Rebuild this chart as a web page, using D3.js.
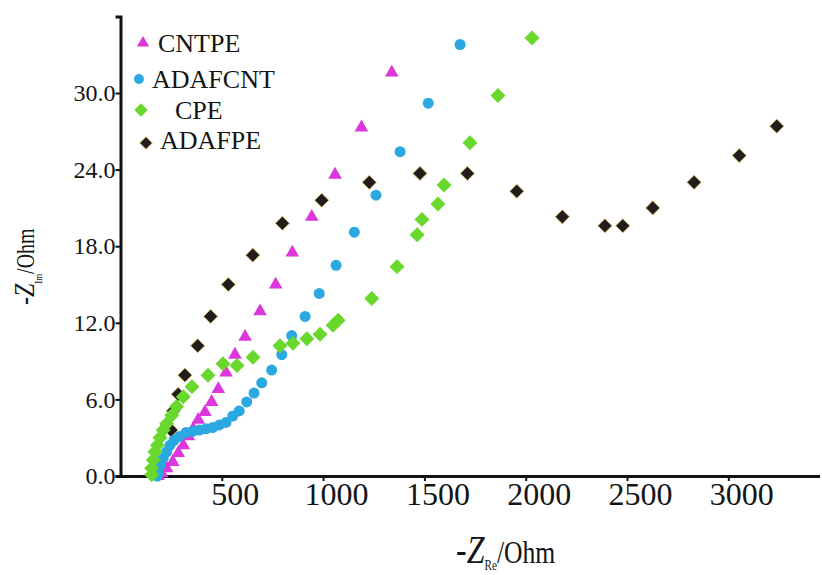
<!DOCTYPE html>
<html>
<head>
<meta charset="utf-8">
<script src="https://cdn.jsdelivr.net/npm/d3@7/dist/d3.min.js"></script>
<style>
  body { margin: 0; background: #fff; }
  svg { display: block; }
  text { font-family: "Liberation Serif", "Times New Roman", serif; fill: #141414; }
</style>
</head>
<body>
<svg width="822" height="575"></svg>
<script>
// Nyquist data: [-Z_Re (Ohm), -Z_Im (Ohm)]
const seriesNames = ["CNTPE", "ADAFCNT", "CPE", "ADAFPE"];

const cntpe = [
  [185, 0.0], [203, 0.2], [228, 0.6], [258, 1.1], [285, 1.8], [310, 2.4],
  [335, 3.1], [359, 3.7], [384, 4.4], [417, 5.0], [450, 5.8], [483, 6.8],
  [521, 8.1], [565, 9.5], [615, 10.9], [689, 12.9], [766, 15.0], [848, 17.5],
  [944, 20.3], [1059, 23.6], [1189, 27.3], [1339, 31.6]
];

const adafcnt = [
  [182, 0.0], [187, 0.3], [198, 0.9], [211, 1.4], [228, 1.9], [244, 2.4],
  [264, 2.8], [290, 3.1], [323, 3.4], [356, 3.5], [389, 3.6], [422, 3.7],
  [455, 3.8], [488, 4.0], [521, 4.2], [554, 4.7], [586, 5.1], [623, 5.8],
  [659, 6.5], [697, 7.3], [746, 8.3], [796, 9.5], [845, 11.0], [911, 12.5],
  [981, 14.3], [1064, 16.5], [1154, 19.1], [1261, 22.0], [1380, 25.4],
  [1519, 29.2], [1676, 33.8]
];

const cpe = [
  [154, 0.1], [154, 0.6], [162, 1.25], [170, 1.9], [182, 2.4], [195, 3.0],
  [211, 3.6], [228, 4.1], [253, 4.75], [277, 5.45], [310, 6.2], [353, 7.0],
  [432, 7.9], [506, 8.8], [575, 8.65], [654, 9.3], [787, 10.2], [851, 10.4],
  [920, 10.75], [985, 11.1], [1049, 11.8], [1074, 12.2], [1240, 13.9],
  [1365, 16.4], [1464, 18.9], [1488, 20.1], [1567, 21.3], [1597, 22.8],
  [1725, 26.1], [1863, 29.8], [2031, 34.3]
];

const adafpe = [
  [249, 3.6], [261, 5.1], [285, 6.4], [318, 7.9], [381, 10.2], [445, 12.5],
  [532, 15.0], [653, 17.3], [799, 19.8], [993, 21.6], [1228, 23.0],
  [1478, 23.7], [1712, 23.7], [1956, 22.3], [2181, 20.3], [2391, 19.6],
  [2479, 19.6], [2627, 21.0], [2831, 23.0], [3054, 25.1], [3239, 27.4]
];

const xTicks = [500, 1000, 1500, 2000, 2500, 3000];
const yTicks = [0, 6, 12, 18, 24, 30];

const svg = d3.select("svg");

// scales (x axis starts at the y axis, no 0 label)
const x = d3.scaleLinear().domain([0, 3450]).range([120.5, 819.5]);
const y = d3.scaleLinear().domain([0, 36]).range([476, 16.4]);

// marker styles per series
const styles = {
  CNTPE:   { data: cntpe,   symbol: d3.symbolTriangle, size: 80,  rotate: 0,  fill: "#dc36dc", stroke: "none" },
  ADAFCNT: { data: adafcnt, symbol: d3.symbolCircle,   size: 95,  rotate: 0,  fill: "#2ba7e2", stroke: "none" },
  CPE:     { data: cpe,     symbol: d3.symbolSquare,   size: 112, rotate: 45, fill: "#68d82c", stroke: "none" },
  ADAFPE:  { data: adafpe,  symbol: d3.symbolSquare,   size: 100, rotate: 45, fill: "#221c1c", stroke: "#d9c46a" }
};

// x axis
const xAxis = svg.append("g")
    .attr("transform", "translate(0," + y(0) + ")")
    .call(d3.axisBottom(x).tickValues(xTicks).tickSize(5).tickSizeOuter(0).tickFormat(d3.format("d")));
xAxis.select(".domain").attr("stroke", "#111").attr("stroke-width", 3);
xAxis.selectAll(".tick line").attr("stroke", "#111").attr("stroke-width", 2);
xAxis.selectAll(".tick text")
    .attr("fill", "#141414")
    .attr("y", 29)
    .attr("dx", 13)
    .attr("dy", 0)
    .style("font-size", "32px")
    .style("font-family", "'Liberation Serif', serif");

// y axis
const yAxis = svg.append("g")
    .attr("transform", "translate(" + x(0) + ",0)")
    .call(d3.axisLeft(y).tickValues(yTicks).tickSize(5).tickSizeOuter(5).tickFormat(d3.format(".1f")));
yAxis.select(".domain").attr("stroke", "#111").attr("stroke-width", 3);
yAxis.selectAll(".tick line").attr("stroke", "#111").attr("stroke-width", 2);
yAxis.selectAll(".tick text")
    .attr("fill", "#141414")
    .attr("x", -5)
    .attr("dy", "0.32em")
    .style("font-size", "24px")
    .style("font-family", "'Liberation Serif', serif");

// points, black first so the coloured ones sit on top near the origin
const drawOrder = ["ADAFPE", "CNTPE", "ADAFCNT", "CPE"];
drawOrder.forEach(function (name) {
    const s = styles[name];
    const path = d3.symbol().type(s.symbol).size(s.size)();
    svg.append("g")
        .attr("class", "series")
        .selectAll("path")
        .data(s.data)
        .enter().append("path")
        .attr("d", path)
        .attr("fill", s.fill)
        .attr("stroke", s.stroke)
        .attr("stroke-width", 0.8)
        .attr("transform", function (d) {
            return "translate(" + x(d[0]) + "," + y(d[1]) + ") rotate(" + s.rotate + ")";
        });
});

// legend (hand placed like the original)
const legendPos = [
  { mx: 143, my: 43, tx: 158, ty: 51.5 },
  { mx: 139, my: 79, tx: 152, ty: 87.5 },
  { mx: 141, my: 110, tx: 175, ty: 118.5 },
  { mx: 146, my: 143, tx: 160, ty: 148.5 }
];
const legend = svg.append("g").attr("class", "legend");
seriesNames.forEach(function (name, i) {
    const s = styles[name], p = legendPos[i];
    legend.append("path")
        .attr("d", d3.symbol().type(s.symbol).size(s.size * 0.8)())
        .attr("fill", s.fill)
        .attr("stroke", s.stroke)
        .attr("stroke-width", 0.8)
        .attr("transform", "translate(" + p.mx + "," + p.my + ") rotate(" + s.rotate + ")");
    legend.append("text")
        .attr("x", p.tx)
        .attr("y", p.ty)
        .style("font-size", "26px")
        .text(name);
});

// axis titles
const xTitle = svg.append("text")
    .attr("transform", "translate(456,563) scale(0.8,1)");
xTitle.append("tspan").style("font-size", "40px").text("-");
xTitle.append("tspan").style("font-size", "40px").style("font-style", "italic").text("Z");
xTitle.append("tspan").style("font-size", "14px").attr("dy", 7).text("Re");
xTitle.append("tspan").style("font-size", "32px").attr("dy", -7).text("/Ohm");

const yTitle = svg.append("text")
    .attr("transform", "translate(34,305) rotate(-90) scale(0.8,1)");
yTitle.append("tspan").style("font-size", "30px").text("-");
yTitle.append("tspan").style("font-size", "30px").style("font-style", "italic").text("Z");
yTitle.append("tspan").style("font-size", "11px").attr("dy", 8).text("Im");
yTitle.append("tspan").style("font-size", "25px").attr("dy", -8).text("/Ohm");
</script>
</body>
</html>
